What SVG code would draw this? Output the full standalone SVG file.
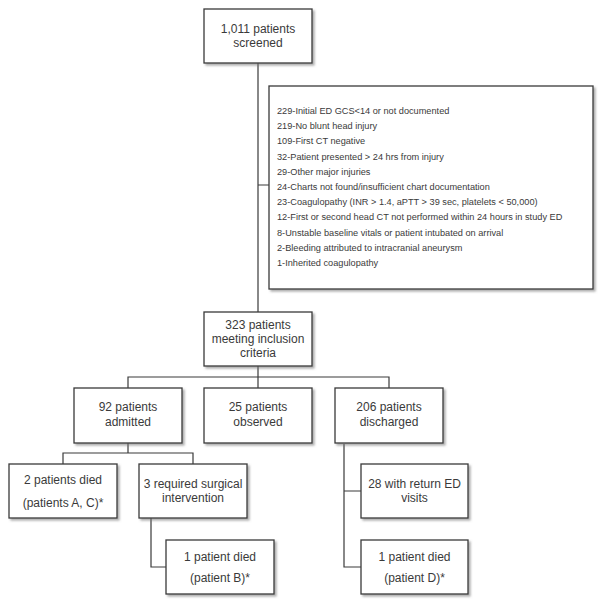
<svg xmlns="http://www.w3.org/2000/svg" width="604" height="606" viewBox="0 0 604 606">
<defs>
<filter id="sh" x="-10%" y="-10%" width="130%" height="130%">
<feDropShadow dx="2" dy="2" stdDeviation="1" flood-color="#777" flood-opacity="0.6"/>
</filter>
</defs>
<style>
.box{fill:#fff;stroke:#3a3a3a;stroke-width:1.3;filter:url(#sh)}
.t{font-family:"Liberation Sans",Arial,sans-serif;font-size:12px;fill:#3a3a3a;text-anchor:middle}
.s{font-family:"Liberation Sans",Arial,sans-serif;font-size:9.2px;fill:#3a3a3a}
.c{fill:none;stroke:#3a3a3a;stroke-width:1.2}
</style>
<rect width="604" height="606" fill="#fff"/>
<g id="connectors">
<path class="c" d="M258 63V312M258 185H269"/>
<path class="c" d="M258 366V377M128 388V377H389V388M258 377V388"/>
<path class="c" d="M128 443V453M63 464V453H193V464"/>
<path class="c" d="M151 518V567H166"/>
<path class="c" d="M344 444V567H361M344 491H361"/>
</g>
<g id="n1011">
<rect class="box" x="204" y="9" width="108" height="54"/>
<text class="t" x="258" y="33">1,011 patients</text>
<text class="t" x="258" y="47">screened</text>
</g>
<g id="excluded">
<rect class="box" x="269" y="86" width="324" height="203"/>
<text class="s" x="277" y="114">229-Initial ED GCS&lt;14 or not documented</text>
<text class="s" x="277" y="129.2">219-No blunt head injury</text>
<text class="s" x="277" y="144.4">109-First CT negative</text>
<text class="s" x="277" y="159.6">32-Patient presented &gt; 24 hrs from injury</text>
<text class="s" x="277" y="174.8">29-Other major injuries</text>
<text class="s" x="277" y="190">24-Charts not found/insufficient chart documentation</text>
<text class="s" x="277" y="205.2">23-Coagulopathy (INR &gt; 1.4, aPTT &gt; 39 sec, platelets &lt; 50,000)</text>
<text class="s" x="277" y="220.4">12-First or second head CT not performed within 24 hours in study ED</text>
<text class="s" x="277" y="235.6">8-Unstable baseline vitals or patient intubated on arrival</text>
<text class="s" x="277" y="250.8">2-Bleeding attributed to intracranial aneurysm</text>
<text class="s" x="277" y="266">1-Inherited coagulopathy</text>
</g>
<g id="n323">
<rect class="box" x="204" y="312" width="108" height="54"/>
<text class="t" x="258" y="329">323 patients</text>
<text class="t" x="258" y="343">meeting inclusion</text>
<text class="t" x="258" y="357">criteria</text>
</g>
<g id="n92">
<rect class="box" x="74" y="388" width="108" height="55"/>
<text class="t" x="128" y="411">92 patients</text>
<text class="t" x="128" y="426">admitted</text>
</g>
<g id="n25">
<rect class="box" x="204" y="388" width="108" height="55"/>
<text class="t" x="258" y="411">25 patients</text>
<text class="t" x="258" y="426">observed</text>
</g>
<g id="n206">
<rect class="box" x="335" y="388" width="108" height="55"/>
<text class="t" x="389" y="411">206 patients</text>
<text class="t" x="389" y="426">discharged</text>
</g>
<g id="nAC">
<rect class="box" x="9" y="464" width="108" height="54"/>
<text class="t" x="63" y="484">2 patients died</text>
<text class="t" x="63" y="507">(patients A, C)*</text>
</g>
<g id="nSurg">
<rect class="box" x="139" y="464" width="108" height="54"/>
<text class="t" x="193" y="488">3 required surgical</text>
<text class="t" x="193" y="502">intervention</text>
</g>
<g id="nB">
<rect class="box" x="166" y="540" width="108" height="54"/>
<text class="t" x="220" y="561">1 patient died</text>
<text class="t" x="220" y="582">(patient B)*</text>
</g>
<g id="n28">
<rect class="box" x="361" y="464" width="107" height="54"/>
<text class="t" x="414.5" y="488">28 with return ED</text>
<text class="t" x="414.5" y="502">visits</text>
</g>
<g id="nD">
<rect class="box" x="361" y="540" width="107" height="54"/>
<text class="t" x="414.5" y="561">1 patient died</text>
<text class="t" x="414.5" y="582">(patient D)*</text>
</g>
</svg>
